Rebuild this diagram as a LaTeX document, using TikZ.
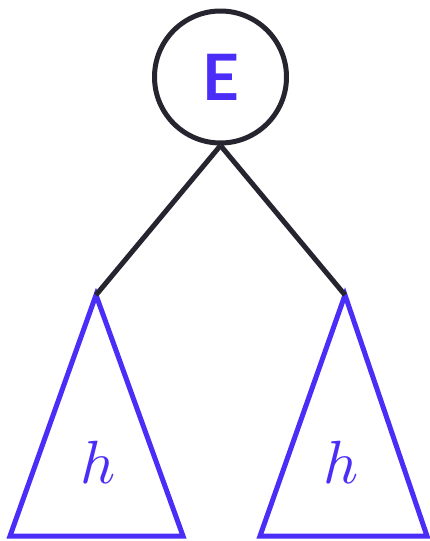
\documentclass[tikz,border=0pt]{standalone}
\usepackage{fontspec}
\newfontfamily\labelfont{Lato}
\definecolor{accent}{HTML}{4A2EF8}
\definecolor{ink}{HTML}{26242E}
\begin{document}
\begin{tikzpicture}[x=1pt,y=-1pt,
  treeedge/.style={draw=ink,line width=5pt},
  subtree/.style={draw=accent,line width=5pt,line join=miter},
  rootnode/.style={circle,draw=ink,line width=5pt,minimum size=132pt,inner sep=0pt,
    font=\labelfont\bfseries\fontsize{64}{64}\selectfont,text=accent},
  heightlabel/.style={text=accent,inner sep=0pt}]
\useasboundingbox (0,0) rectangle (430,541);
\node[rootnode] (E) at (220.5,77) {E};
\coordinate (la) at (96,295);
\coordinate (lb) at (10,536);
\coordinate (lc) at (183,536);
\coordinate (ra) at (345,295);
\coordinate (rb) at (260,536);
\coordinate (rc) at (427,536);
\draw[subtree] (la) -- (lb) -- (lc) -- cycle;
\draw[subtree] (ra) -- (rb) -- (rc) -- cycle;
\draw[treeedge] (E.south) -- (la);
\draw[treeedge] (E.south) -- (ra);
\node[heightlabel] (hl) at (98,462) {\scalebox{6.1}{$h$}};
\node[heightlabel] (hr) at (341,462) {\scalebox{6.1}{$h$}};
\end{tikzpicture}
\end{document}
